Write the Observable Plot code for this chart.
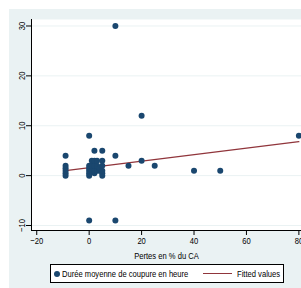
<!DOCTYPE html>
<html><head><meta charset="utf-8">
<script src="https://cdn.jsdelivr.net/npm/d3@7"></script>
<script src="https://cdn.jsdelivr.net/npm/@observablehq/plot@0.6"></script>
<style>
body{margin:0;background:#fff;}
#wrap{position:relative;width:301px;height:288px;overflow:hidden;font-family:"Liberation Sans",Arial,sans-serif;}
#bg{position:absolute;left:9px;top:9px;width:292px;height:279px;background:#eaf2f3;}
#chart{position:absolute;left:0;top:0;}
#legend{position:absolute;left:50px;top:264px;width:234px;height:19px;border:1px solid #000;background:#fff;box-sizing:border-box;font-size:9.5px;color:#000;}
#legend .dot{position:absolute;left:3px;top:6px;width:6px;height:6px;border-radius:50%;background:#1a476f;}
#legend .t1{position:absolute;left:11px;top:3px;white-space:nowrap;transform:scaleX(0.8);transform-origin:0 50%;}
#legend .ln{position:absolute;left:152px;top:8px;width:29px;height:0;border-top:1.2px solid #90353b;}
#legend .t2{position:absolute;left:186px;top:3px;white-space:nowrap;transform:scaleX(0.8);transform-origin:0 50%;}
</style></head>
<body>
<div id="wrap"><div id="bg"></div><div id="chart"></div>
<div id="legend"><span class="dot"></span><span class="t1">Durée moyenne de coupure en heure</span><span class="ln"></span><span class="t2">Fitted values</span></div>
</div>
<script>
const pertes = [-9,-9,-9,-9,-9,-9, 0,0,0,0,0,0,0, 1,1,1, 2,2,2,2,2, 3,3,3, 4,4, 5,5,5,5,5,5, 10,10,10, 15, 20,20, 25, 40, 50, 80];
const duree  = [0,0.5,1,1.5,2,4, 0,0.5,1,1.5,2,8,-9, 1,2,3, 0.5,1,2,3,5, 1,2,3, 1,1.5, 0,0.5,1,2,3,5, 30,4,-9, 2, 12,3, 2, 1, 1, 8];
const fitX = [-9, 80];
const fitY = [1.0, 6.8];
const xTicks = [-20, 0, 20, 40, 60, 80];
const yTicks = [-10, 0, 10, 20, 30];

const pts = pertes.map((x, i) => ({x, y: duree[i]}));
const fit = fitX.map((x, i) => ({x, y: fitY[i]}));

const chart = Plot.plot({
  width: 301, height: 262,
  marginLeft: 31, marginRight: 0, marginTop: 19, marginBottom: 32,
  style: {background: "transparent", fontFamily: '"Liberation Sans",Arial,sans-serif', fontSize: "9.5px", color: "#000"},
  x: {domain: [-22, 81]},
  y: {domain: [-11, 31.3]},
  marks: [
    Plot.frame({fill: "white", stroke: null}),
    Plot.gridY(yTicks, {stroke: "#eaf2f3", strokeOpacity: 1, strokeWidth: 1}),
    Plot.ruleX([-22], {stroke: "#000", strokeWidth: 1}),
    Plot.ruleY([-11], {stroke: "#000", strokeWidth: 1}),
    Plot.axisY(yTicks, {tickSize: 5, tickPadding: 2, tickRotate: -90, label: null, fontSize: 9.5}),
    Plot.axisX(xTicks, {tickSize: 5, tickPadding: 2, label: "Pertes en % du CA", labelAnchor: "center", labelArrow: "none", labelOffset: 28, fontSize: 9.5}),
    Plot.line(fit, {x: "x", y: "y", stroke: "#90353b", strokeWidth: 1.2}),
    Plot.dot(pts, {x: "x", y: "y", r: 3, fill: "#1a476f", stroke: null})
  ]
});
document.getElementById("chart").appendChild(chart);
chart.querySelectorAll("text").forEach(t => {
  const w = t.getComputedTextLength();
  if (w > 0) {
    t.setAttribute("textLength", (w * 0.8).toFixed(2));
    t.setAttribute("lengthAdjust", "spacingAndGlyphs");
  }
});
</script>
</body></html>
